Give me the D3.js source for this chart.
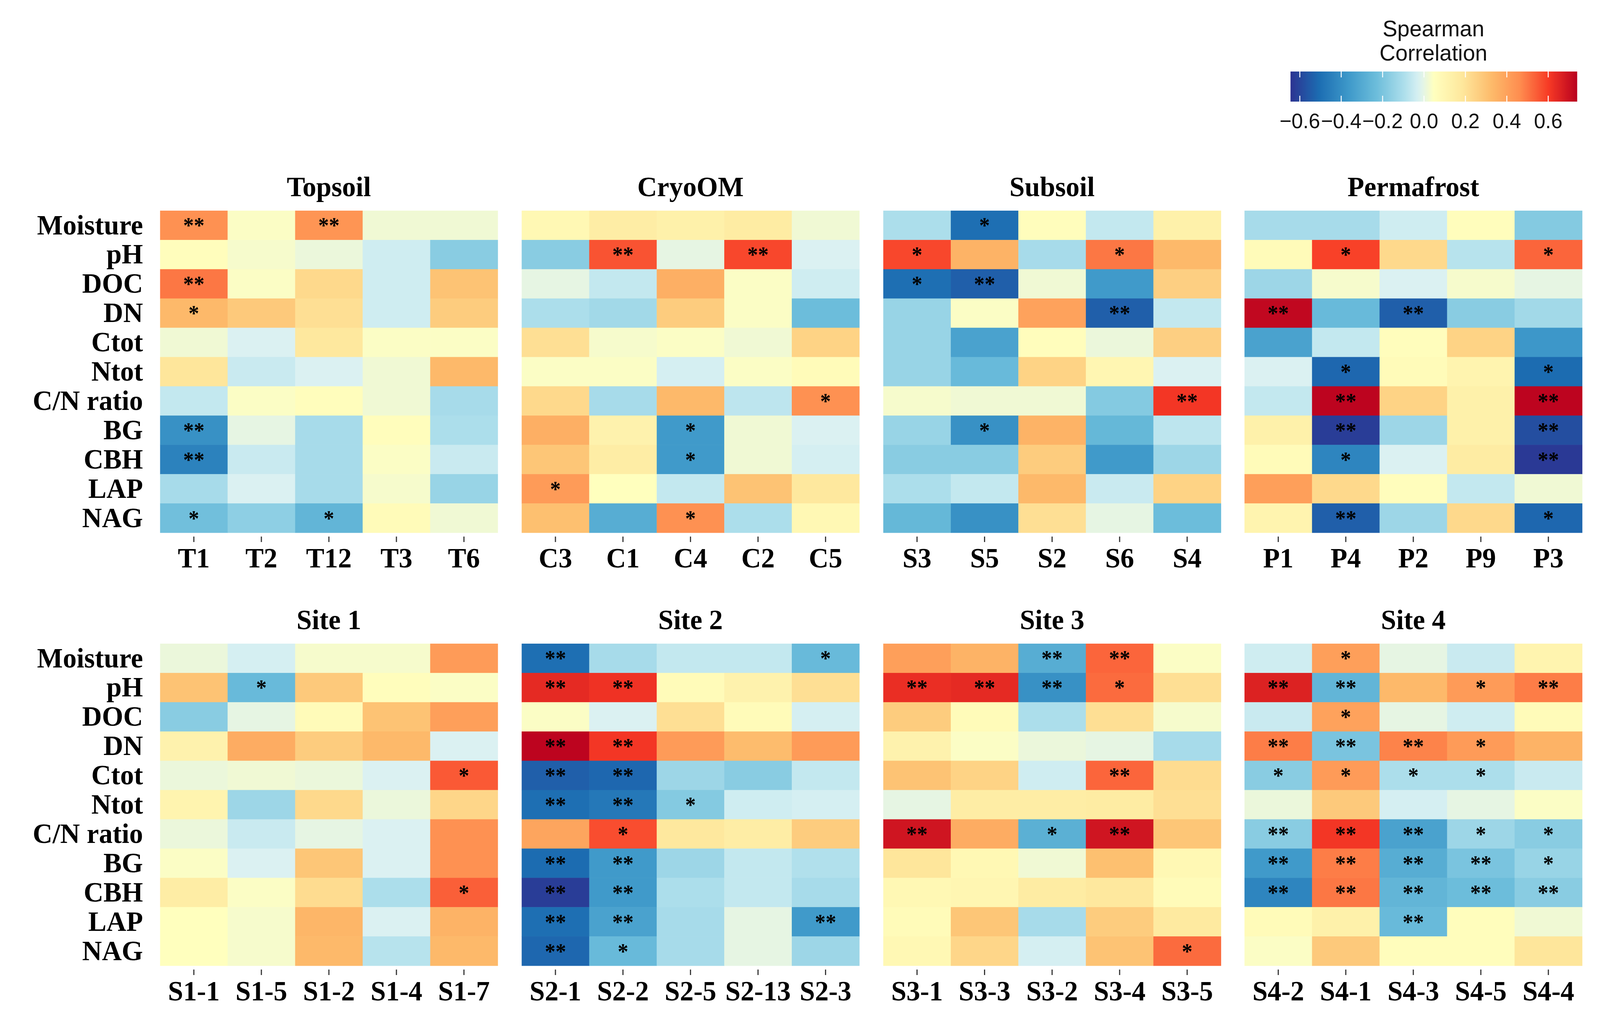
<!DOCTYPE html>
<html>
<head>
<meta charset="utf-8">
<script src="https://cdn.jsdelivr.net/npm/d3@7"></script>
<style>
  html, body { margin: 0; padding: 0; background: #fff; overflow: hidden; }
  svg { display: block; width: 100vw; height: 100vh; }
</style>
</head>
<body>
<script>
// rows of every heatmap
const rowVars = ["Moisture", "pH", "DOC", "DN", "Ctot", "Ntot", "C/N ratio", "BG", "CBH", "LAP", "NAG"];

// sample order (columns) of each panel
const topsoilSamples = ["T1", "T2", "T12", "T3", "T6"];
const cryoSamples = ["C3", "C1", "C4", "C2", "C5"];
const subsoilSamples = ["S3", "S5", "S2", "S6", "S4"];
const permaSamples = ["P1", "P4", "P2", "P9", "P3"];
const site1Samples = ["S1-1", "S1-5", "S1-2", "S1-4", "S1-7"];
const site2Samples = ["S2-1", "S2-2", "S2-5", "S2-13", "S2-3"];
const site3Samples = ["S3-1", "S3-3", "S3-2", "S3-4", "S3-5"];
const site4Samples = ["S4-2", "S4-1", "S4-3", "S4-5", "S4-4"];

// spearman rho, one row per variable
const topsoilRho = [
  [0.45, 0.04, 0.44, 0.02, 0.02],
  [0.06, 0.03, 0.01, -0.04, -0.17],
  [0.50, 0.04, 0.23, -0.04, 0.30],
  [0.33, 0.28, 0.21, -0.04, 0.27],
  [0.02, -0.02, 0.18, 0.04, 0.04],
  [0.19, -0.05, -0.02, 0.02, 0.33],
  [-0.06, 0.04, 0.06, 0.02, -0.11],
  [-0.39, 0.00, -0.11, 0.06, -0.10],
  [-0.44, -0.05, -0.11, 0.04, -0.05],
  [-0.11, -0.02, -0.11, 0.03, -0.14],
  [-0.22, -0.16, -0.26, 0.07, 0.02]
];
const cryoRho = [
  [0.09, 0.15, 0.13, 0.16, 0.02],
  [-0.17, 0.56, 0.00, 0.58, -0.02],
  [0.00, -0.06, 0.36, 0.04, -0.04],
  [-0.10, -0.12, 0.27, 0.04, -0.23],
  [0.21, 0.03, 0.04, 0.02, 0.25],
  [0.04, 0.04, -0.03, 0.04, 0.07],
  [0.23, -0.11, 0.33, -0.07, 0.45],
  [0.36, 0.12, -0.36, 0.02, -0.02],
  [0.29, 0.15, -0.36, 0.02, -0.03],
  [0.42, 0.05, -0.06, 0.30, 0.18],
  [0.31, -0.29, 0.45, -0.10, 0.09]
];
const subsoilRho = [
  [-0.10, -0.50, 0.06, -0.06, 0.13],
  [0.58, 0.35, -0.11, 0.50, 0.33],
  [-0.50, -0.54, 0.02, -0.36, 0.26],
  [-0.14, 0.04, 0.40, -0.54, -0.06],
  [-0.14, -0.33, 0.06, 0.01, 0.26],
  [-0.14, -0.24, 0.25, 0.10, -0.02],
  [0.03, 0.02, 0.02, -0.18, 0.61],
  [-0.14, -0.39, 0.35, -0.25, -0.07],
  [-0.17, -0.17, 0.27, -0.36, -0.13],
  [-0.10, -0.06, 0.33, -0.05, 0.25],
  [-0.25, -0.39, 0.21, 0.00, -0.23]
];
const permaRho = [
  [-0.11, -0.11, -0.04, 0.06, -0.18],
  [0.07, 0.59, 0.23, -0.08, 0.53],
  [-0.13, 0.03, -0.02, 0.03, 0.00],
  [0.72, -0.24, -0.54, -0.17, -0.12],
  [-0.33, -0.06, 0.06, 0.25, -0.37],
  [-0.02, -0.52, 0.07, 0.11, -0.51],
  [-0.06, 0.73, 0.25, 0.13, 0.73],
  [0.13, -0.62, -0.13, 0.13, -0.58],
  [0.07, -0.43, -0.02, 0.16, -0.63],
  [0.41, 0.23, 0.06, -0.06, 0.02],
  [0.11, -0.54, -0.13, 0.23, -0.52]
];
const site1Rho = [
  [0.01, -0.03, 0.03, 0.03, 0.42],
  [0.30, -0.24, 0.28, 0.06, 0.04],
  [-0.17, 0.00, 0.07, 0.30, 0.41],
  [0.12, 0.37, 0.27, 0.33, -0.02],
  [0.01, 0.02, 0.01, -0.02, 0.55],
  [0.11, -0.13, 0.23, 0.01, 0.24],
  [0.01, -0.05, 0.00, -0.02, 0.45],
  [0.04, -0.02, 0.29, -0.02, 0.45],
  [0.15, 0.04, 0.22, -0.10, 0.54],
  [0.05, 0.03, 0.34, -0.02, 0.35],
  [0.05, 0.03, 0.33, -0.08, 0.33]
];
const site2Rho = [
  [-0.50, -0.11, -0.06, -0.06, -0.24],
  [0.64, 0.62, 0.07, 0.12, 0.21],
  [0.04, -0.02, 0.21, 0.07, -0.03],
  [0.73, 0.61, 0.42, 0.32, 0.42],
  [-0.54, -0.52, -0.13, -0.17, -0.06],
  [-0.50, -0.47, -0.18, -0.04, -0.03],
  [0.39, 0.57, 0.18, 0.15, 0.27],
  [-0.51, -0.36, -0.13, -0.06, -0.09],
  [-0.62, -0.36, -0.10, -0.06, -0.11],
  [-0.50, -0.33, -0.11, 0.00, -0.36],
  [-0.52, -0.24, -0.11, 0.00, -0.13]
];
const site3Rho = [
  [0.41, 0.35, -0.29, 0.53, 0.04],
  [0.63, 0.64, -0.39, 0.52, 0.21],
  [0.27, 0.07, -0.10, 0.21, 0.03],
  [0.12, 0.04, 0.01, 0.00, -0.11],
  [0.30, 0.25, -0.04, 0.53, 0.22],
  [0.00, 0.15, 0.15, 0.16, 0.21],
  [0.69, 0.37, -0.28, 0.69, 0.29],
  [0.19, 0.09, 0.02, 0.31, 0.09],
  [0.09, 0.10, 0.16, 0.18, 0.07],
  [0.07, 0.29, -0.11, 0.27, 0.17],
  [0.09, 0.24, -0.03, 0.30, 0.52]
];
const site4Rho = [
  [-0.04, 0.41, 0.00, -0.05, 0.11],
  [0.66, -0.26, 0.33, 0.42, 0.49],
  [-0.05, 0.40, 0.00, -0.04, 0.07],
  [0.49, -0.20, 0.48, 0.42, 0.35],
  [-0.17, 0.42, -0.10, -0.10, -0.05],
  [0.01, 0.28, -0.03, 0.00, 0.04],
  [-0.17, 0.61, -0.33, -0.13, -0.17],
  [-0.36, 0.49, -0.29, -0.20, -0.14],
  [-0.43, 0.50, -0.26, -0.23, -0.17],
  [0.07, 0.13, -0.24, 0.06, 0.02],
  [0.04, 0.28, 0.06, 0.06, 0.19]
];

// significance marks
const e5 = ["", "", "", "", ""];
const topsoilSig = [
  ["**", "", "**", "", ""], e5, ["**", "", "", "", ""], ["*", "", "", "", ""], e5, e5, e5,
  ["**", "", "", "", ""], ["**", "", "", "", ""], e5, ["*", "", "*", "", ""]
];
const cryoSig = [
  e5, ["", "**", "", "**", ""], e5, e5, e5, e5, ["", "", "", "", "*"],
  ["", "", "*", "", ""], ["", "", "*", "", ""], ["*", "", "", "", ""], ["", "", "*", "", ""]
];
const subsoilSig = [
  ["", "*", "", "", ""], ["*", "", "", "*", ""], ["*", "**", "", "", ""], ["", "", "", "**", ""],
  e5, e5, ["", "", "", "", "**"], ["", "*", "", "", ""], e5, e5, e5
];
const permaSig = [
  e5, ["", "*", "", "", "*"], e5, ["**", "", "**", "", ""], e5, ["", "*", "", "", "*"],
  ["", "**", "", "", "**"], ["", "**", "", "", "**"], ["", "*", "", "", "**"], e5, ["", "**", "", "", "*"]
];
const site1Sig = [
  e5, ["", "*", "", "", ""], e5, e5, ["", "", "", "", "*"], e5, e5, e5,
  ["", "", "", "", "*"], e5, e5
];
const site2Sig = [
  ["**", "", "", "", "*"], ["**", "**", "", "", ""], e5, ["**", "**", "", "", ""],
  ["**", "**", "", "", ""], ["**", "**", "*", "", ""], ["", "*", "", "", ""],
  ["**", "**", "", "", ""], ["**", "**", "", "", ""], ["**", "**", "", "", "**"], ["**", "*", "", "", ""]
];
const site3Sig = [
  ["", "", "**", "**", ""], ["**", "**", "**", "*", ""], e5, e5, ["", "", "", "**", ""], e5,
  ["**", "", "*", "**", ""], e5, e5, e5, ["", "", "", "", "*"]
];
const site4Sig = [
  ["", "*", "", "", ""], ["**", "**", "", "*", "**"], ["", "*", "", "", ""], ["**", "**", "**", "*", ""],
  ["*", "*", "*", "*", ""], e5, ["**", "**", "**", "*", "*"], ["**", "**", "**", "**", "*"],
  ["**", "**", "**", "**", "**"], ["", "", "**", "", ""], e5
];

const panelTitles = ["Topsoil", "CryoOM", "Subsoil", "Permafrost", "Site 1", "Site 2", "Site 3", "Site 4"];
const legendTicks = [-0.6, -0.4, -0.2, 0, 0.2, 0.4, 0.6];
const rhoRange = [-0.645, 0.74];
// colour ramp as it appears in the colour bar, low to high (position along the bar, colour)
const rampPos = [0, 0.1, 0.2, 0.3, 0.4, 0.45, 0.5, 0.6, 0.7, 0.8, 0.9, 1];
const rampColors = ["#2c3391", "#1c6db2", "#3d98c9", "#6cbddb", "#b0e0ec", "#daf1f3", "#ffffbf",
  "#fee79c", "#fdbb6b", "#fe8d4f", "#f73a25", "#b8001f"];

const panels = [
  [topsoilSamples, topsoilRho, topsoilSig],
  [cryoSamples, cryoRho, cryoSig],
  [subsoilSamples, subsoilRho, subsoilSig],
  [permaSamples, permaRho, permaSig],
  [site1Samples, site1Rho, site1Sig],
  [site2Samples, site2Rho, site2Sig],
  [site3Samples, site3Rho, site3Sig],
  [site4Samples, site4Rho, site4Sig]
].map((d, i) => ({ title: panelTitles[i], samples: d[0], rho: d[1], sig: d[2], col: i % 4, row: Math.floor(i / 4) }));

//---------------------------DRAW--------------------------------------------------------
const W = 4208, H = 2628;
const serif = "'Liberation Serif', 'Times New Roman', serif";
const sans = "'Liberation Sans', Arial, sans-serif";

// viewBox so the drawing always fills the photographed window
const svg = d3.select("body").append("svg")
  .attr("viewBox", `0 0 ${W} ${H}`)
  .attr("preserveAspectRatio", "none");
svg.append("rect").attr("width", W).attr("height", H).attr("fill", "#fff");

const color = d3.scaleLinear()
  .domain(rampPos.map(f => rhoRange[0] + f * (rhoRange[1] - rhoRange[0])))
  .range(rampColors)
  .interpolate(d3.interpolateRgb)
  .clamp(true);

const panelW = 888, panelH = 824;
const panelX = [421, 1372, 2323, 3273];
const panelY = [539, 1647];

panels.forEach(p => {
  const g = svg.append("g")
    .attr("transform", `translate(${panelX[p.col]},${panelY[p.row]})`);

  const x = d3.scaleBand().domain(p.samples).range([0, panelW]);
  const y = d3.scaleBand().domain(rowVars).range([0, panelH]);

  const cells = [];
  rowVars.forEach((v, i) => {
    p.samples.forEach((s, j) => {
      cells.push({ v: v, s: s, r: p.rho[i][j], sig: p.sig[i][j] });
    });
  });

  g.selectAll("rect.cell")
    .data(cells)
    .join("rect")
    .attr("class", "cell")
    .attr("x", d => x(d.s))
    .attr("y", d => y(d.v))
    .attr("width", x.bandwidth() + 0.6)
    .attr("height", y.bandwidth() + 0.6)
    .attr("fill", d => color(d.r));

  // stars
  g.selectAll("text.sig")
    .data(cells.filter(d => d.sig !== ""))
    .join("text")
    .attr("class", "sig")
    .attr("x", d => x(d.s) + x.bandwidth() / 2)
    .attr("y", d => y(d.v) + y.bandwidth() / 2 + 20)
    .attr("text-anchor", "middle")
    .attr("font-family", serif)
    .attr("font-weight", "bold")
    .attr("font-size", 56)
    .attr("fill", "#000")
    .text(d => d.sig);

  // title
  g.append("text")
    .attr("x", panelW / 2)
    .attr("y", -37)
    .attr("text-anchor", "middle")
    .attr("font-family", serif)
    .attr("font-weight", "bold")
    .attr("font-size", 72)
    .text(p.title);

  // sample axis
  const xAxis = g.append("g")
    .attr("transform", `translate(0,${panelH + 10})`)
    .call(d3.axisBottom(x).tickSize(14).tickPadding(14));
  xAxis.select(".domain").remove();
  xAxis.selectAll(".tick line").attr("stroke", "#333").attr("stroke-width", 3);
  xAxis.selectAll(".tick text")
    .attr("font-family", serif)
    .attr("font-weight", "bold")
    .attr("font-size", 72)
    .attr("fill", "#000");

  // variable axis only on the first column
  if (p.col === 0) {
    const yAxis = g.append("g")
      .call(d3.axisLeft(y).tickSize(0).tickPadding(45));
    yAxis.select(".domain").remove();
    yAxis.selectAll(".tick text")
      .attr("font-family", serif)
      .attr("font-weight", "bold")
      .attr("font-size", 72)
      .attr("fill", "#000");
  }
});

//---------------------------LEGEND--------------------------------------------------------
const lx = d3.scaleLinear().domain(rhoRange).range([3394, 4148]);
const barTop = 183, barH = 77;

const grad = svg.append("defs").append("linearGradient")
  .attr("id", "rhoGrad")
  .attr("x1", "0%").attr("x2", "100%")
  .attr("y1", "0%").attr("y2", "0%");
grad.selectAll("stop")
  .data(d3.range(0, 1.0001, 0.02))
  .join("stop")
  .attr("offset", d => `${d * 100}%`)
  .attr("stop-color", d => color(rhoRange[0] + d * (rhoRange[1] - rhoRange[0])));

svg.append("rect")
  .attr("x", lx.range()[0])
  .attr("y", barTop)
  .attr("width", lx.range()[1] - lx.range()[0])
  .attr("height", barH)
  .attr("fill", "url(#rhoGrad)");

// little white ticks inside the bar
legendTicks.forEach(t => {
  svg.append("line")
    .attr("x1", lx(t)).attr("x2", lx(t))
    .attr("y1", barTop).attr("y2", barTop + 15)
    .attr("stroke", "#fff").attr("stroke-width", 2.5);
  svg.append("line")
    .attr("x1", lx(t)).attr("x2", lx(t))
    .attr("y1", barTop + barH - 15).attr("y2", barTop + barH)
    .attr("stroke", "#fff").attr("stroke-width", 2.5);
});

svg.selectAll("text.ltick")
  .data(legendTicks)
  .join("text")
  .attr("class", "ltick")
  .attr("x", d => lx(d))
  .attr("y", 328)
  .attr("text-anchor", "middle")
  .attr("font-family", sans)
  .attr("font-size", 54)
  .attr("fill", "#111")
  .text(d => d3.format(".1f")(d));

svg.append("text")
  .attr("x", 3770).attr("y", 93)
  .attr("text-anchor", "middle")
  .attr("font-family", sans)
  .attr("font-size", 58)
  .attr("fill", "#111")
  .text("Spearman");
svg.append("text")
  .attr("x", 3770).attr("y", 155)
  .attr("text-anchor", "middle")
  .attr("font-family", sans)
  .attr("font-size", 58)
  .attr("fill", "#111")
  .text("Correlation");
</script>
</body>
</html>
